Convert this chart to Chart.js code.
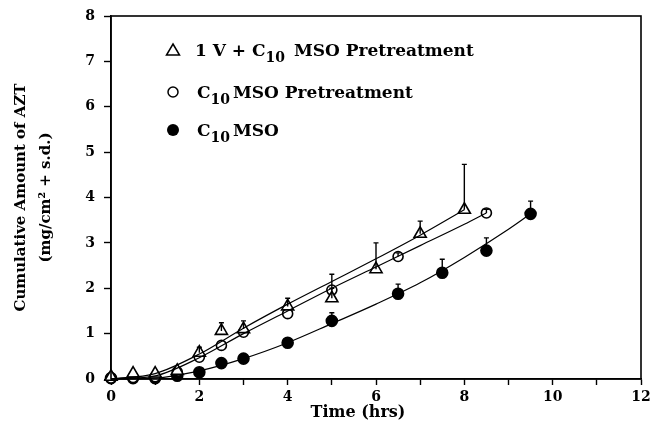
<!DOCTYPE html>
<html>
<head>
<meta charset="utf-8">
<script src="https://cdn.jsdelivr.net/npm/chart.js@4"></script>
<style>
  html, body { margin: 0; padding: 0; background: #fff; }
  #wrap { width: 652px; height: 429px; position: relative; }
</style>
</head>
<body>
<div id="wrap"><canvas id="azt"></canvas></div>
<script>
// ---- data ----
const xTicks = [0, 2, 4, 6, 8, 10, 12];
const yTicks = [0, 1, 2, 3, 4, 5, 6, 7, 8];

// 1 V + C10MSO pretreatment (open triangles)
const triHours = [0, 0.5, 1, 1.5, 2, 2.5, 3, 4, 5, 6, 7, 8];
const triVals  = [0.05, 0.12, 0.12, 0.18, 0.58, 1.06, 1.1, 1.6, 1.78, 2.42, 3.2, 3.73];
const triErr   = [null, null, null, null, 0.7, 1.24, 1.28, 1.78, 2.0, 3.0, 3.48, 4.73];

// C10MSO pretreatment (open circles)
const openHours = [0, 0.5, 1, 1.5, 2, 2.5, 3, 4, 5, 6.5, 8.5];
const openVals  = [0.02, 0.03, 0.05, 0.16, 0.48, 0.74, 1.03, 1.44, 1.96, 2.7, 3.66];
const openErr   = [null, null, null, null, null, null, null, null, 2.31, 2.78, 3.74];

// C10MSO (filled circles)
const fillHours = [0, 0.5, 1, 1.5, 2, 2.5, 3, 4, 5, 6.5, 7.5, 8.5, 9.5];
const fillVals  = [0.02, 0.02, 0.02, 0.07, 0.15, 0.35, 0.45, 0.8, 1.28, 1.88, 2.34, 2.83, 3.64];
const fillErr   = [null, null, null, null, null, null, null, null, 1.46, 2.09, 2.64, 3.11, 3.92];

// fitted curves, read at a few times along each line
const triFitHours  = [0, 1, 2, 3, 4, 5, 6, 7, 8];
const triFitVals   = [0, 0.12, 0.55, 1.12, 1.65, 2.15, 2.65, 3.17, 3.73];
const openFitHours = [0, 1, 2, 3, 4, 5, 6, 7, 8, 8.5];
const openFitVals  = [0, 0.07, 0.47, 1.0, 1.5, 2.0, 2.47, 2.94, 3.41, 3.66];
const fillFitHours = [0, 1, 2, 3, 4, 5, 6, 7, 8, 9, 9.5];
const fillFitVals  = [0, 0.02, 0.18, 0.45, 0.8, 1.22, 1.65, 2.12, 2.68, 3.3, 3.64];

const FONT = "'DejaVu Serif', serif";

function pts(xs, ys) {
  return xs.map((x, i) => ({ x: x, y: ys[i] }));
}

function fitLine(xs, ys) {
  return {
    type: "line",
    data: pts(xs, ys),
    borderColor: "#000",
    borderWidth: 1.2,
    pointRadius: 0,
    fill: false,
    cubicInterpolationMode: "monotone",
    clip: false
  };
}

function markers(xs, ys, errs, style, fillCol, radius) {
  return {
    type: "scatter",
    data: pts(xs, ys),
    errTop: errs,
    pointStyle: style,
    pointRadius: radius,
    pointBackgroundColor: fillCol,
    pointBorderColor: "#000",
    pointBorderWidth: 1.6,
    showLine: false,
    clip: false
  };
}

// ==========================
// ERROR BARS + FRAME + LEGEND
// ==========================
const extras = {
  id: "extras",
  afterDatasetsDraw(chart) {
    const ctx = chart.ctx;
    const xs = chart.scales.x, ys = chart.scales.y;
    ctx.save();
    ctx.strokeStyle = "#000";
    ctx.lineWidth = 1.4;
    chart.data.datasets.forEach(ds => {
      if (!ds.errTop) return;
      ds.data.forEach((p, i) => {
        const top = ds.errTop[i];
        if (top == null) return;
        const px = xs.getPixelForValue(p.x);
        const y0 = ys.getPixelForValue(p.y);
        const y1 = ys.getPixelForValue(top);
        ctx.beginPath();
        ctx.moveTo(px, y0);
        ctx.lineTo(px, y1);
        ctx.moveTo(px - 2.5, y1);
        ctx.lineTo(px + 2.5, y1);
        ctx.stroke();
      });
    });

    // box round the plot
    const a = chart.chartArea;
    ctx.lineWidth = 1.6;
    ctx.strokeRect(a.left, a.top, a.right - a.left, a.bottom - a.top);
    ctx.restore();
  },
  afterDraw(chart) {
    const ctx = chart.ctx;
    const a = chart.chartArea;
    ctx.save();
    ctx.fillStyle = "#000";
    ctx.strokeStyle = "#000";

    // legend
    const mx = a.left + 62;
    const rows = [
      { y: a.top + 34, kind: "tri",  parts: [["1 V + C", 0], ["10", 1], [" MSO Pretreatment", 0]] },
      { y: a.top + 76, kind: "open", parts: [["C", 0], ["10", 1], ["MSO Pretreatment", 0]] },
      { y: a.top + 114, kind: "fill", parts: [["C", 0], ["10", 1], ["MSO", 0]] }
    ];
    rows.forEach(r => {
      ctx.lineWidth = 1.5;
      ctx.beginPath();
      if (r.kind === "tri") {
        ctx.moveTo(mx, r.y - 6);
        ctx.lineTo(mx + 6.5, r.y + 5);
        ctx.lineTo(mx - 6.5, r.y + 5);
        ctx.closePath();
        ctx.stroke();
      } else {
        ctx.arc(mx, r.y, r.kind === "fill" ? 6 : 5, 0, Math.PI * 2);
        if (r.kind === "fill") ctx.fill(); else ctx.stroke();
      }
      let tx = mx + (r.kind === "tri" ? 22 : 24);
      ctx.textBaseline = "alphabetic";
      r.parts.forEach(([txt, sub]) => {
        ctx.font = sub ? "bold 14px " + FONT : "bold 17px " + FONT;
        ctx.fillText(txt, tx, r.y + 6 + (sub ? 6 : 0));
        tx += ctx.measureText(txt).width + (sub ? 3 : 0);
      });
    });

    // x title (sits a bit left of centre in the figure)
    ctx.font = "bold 16px " + FONT;
    ctx.textAlign = "center";
    ctx.textBaseline = "middle";
    ctx.fillText("Time (hrs)", a.left + 247, 413);
    ctx.restore();
  }
};

new Chart(document.getElementById("azt"), {
  data: {
    datasets: [
      fitLine(triFitHours, triFitVals),
      fitLine(openFitHours, openFitVals),
      fitLine(fillFitHours, fillFitVals),
      markers(triHours, triVals, triErr, "triangle", "#fff", 7),
      markers(openHours, openVals, openErr, "circle", "#fff", 5),
      markers(fillHours, fillVals, fillErr, "circle", "#000", 5.5)
    ]
  },
  options: {
    responsive: true,
    maintainAspectRatio: false,
    animation: false,
    layout: { padding: { left: 0, right: 11, top: 16, bottom: 0 } },
    plugins: {
      legend: { display: false },
      tooltip: { enabled: false }
    },
    scales: {
      x: {
        type: "linear",
        min: 0,
        max: 12,
        afterBuildTicks: s => { s.ticks = Array.from({ length: 13 }, (_, i) => ({ value: i })); },
        afterFit: s => { s.height = 50; s.paddingLeft = 0; s.paddingRight = 0; },
        ticks: {
          color: "#000",
          font: { family: FONT, size: 14, weight: "bold" },
          padding: 4,
          maxRotation: 0,
          autoSkip: false,
          callback: v => (xTicks.includes(v) ? v : "")
        },
        grid: { drawOnChartArea: false, tickLength: 6, tickColor: "#000", tickWidth: 1.4 },
        border: { color: "#000", width: 1.6 }
      },
      y: {
        type: "linear",
        min: 0,
        max: 8,
        afterBuildTicks: s => { s.ticks = yTicks.map(v => ({ value: v })); },
        afterFit: s => { s.width = 111; s.paddingTop = 0; s.paddingBottom = 0; },
        ticks: {
          color: "#000",
          font: { family: FONT, size: 14, weight: "bold" },
          padding: 9
        },
        grid: { drawOnChartArea: false, tickLength: 7, tickColor: "#000", tickWidth: 1.4 },
        border: { color: "#000", width: 1.6 },
        title: {
          display: true,
          text: ["Cumulative Amount of AZT", "(mg/cm\u00b2 + s.d.)"],
          color: "#000",
          font: { family: FONT, size: 15, weight: "bold", lineHeight: 1.65 },
          padding: { top: 9, bottom: 0 }
        }
      }
    }
  },
  plugins: [extras]
});
</script>
</body>
</html>
